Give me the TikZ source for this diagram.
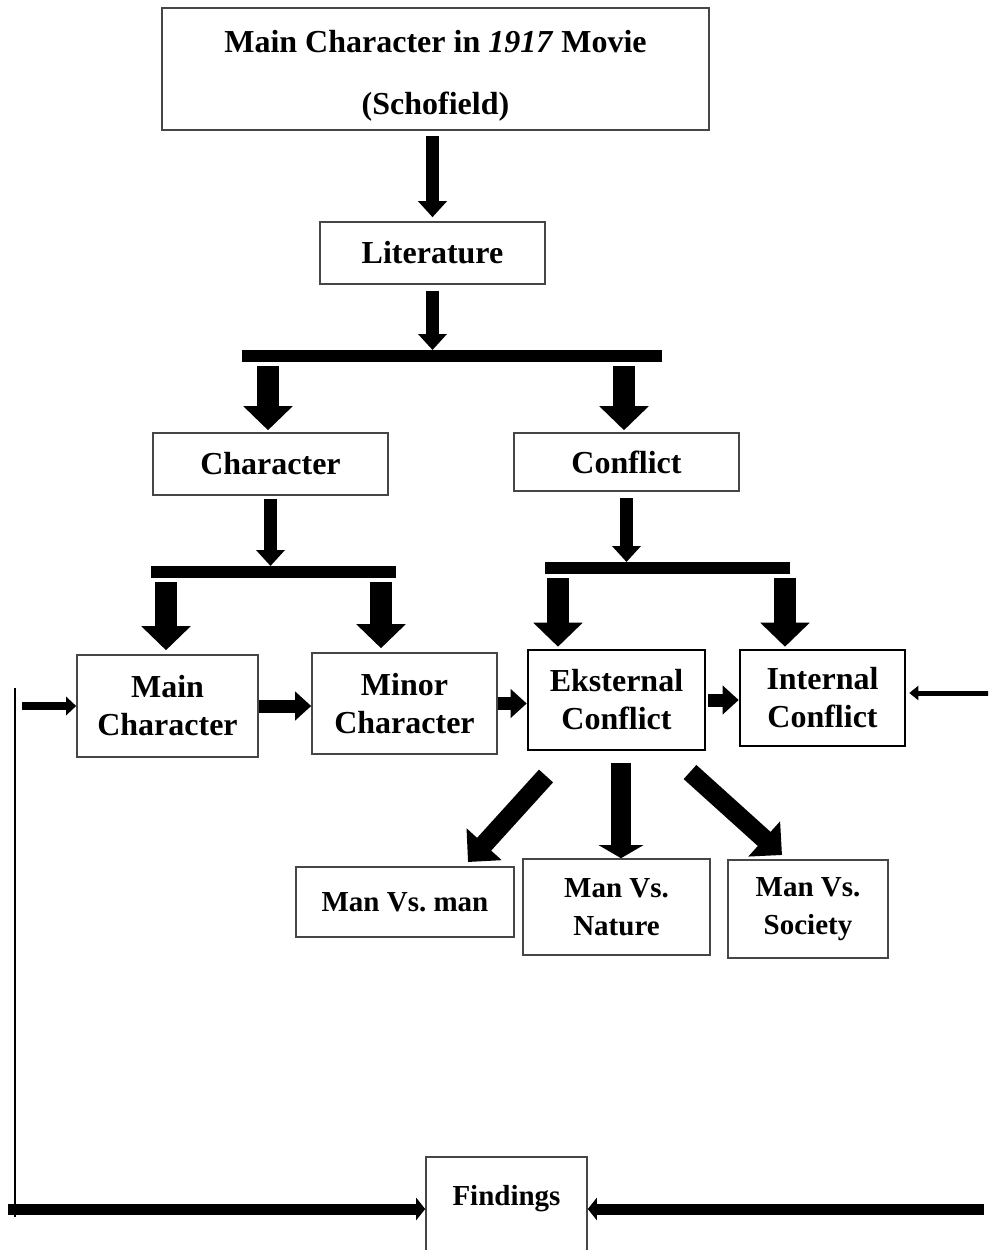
\documentclass[tikz,border=0pt]{standalone}
\usepackage{fontspec}
\setmainfont{Liberation Serif}
\usetikzlibrary{arrows.meta, positioning, calc}
\definecolor{boxgray}{RGB}{70, 70, 70}
\frenchspacing
\tikzset{
	block/.style={rectangle, draw=boxgray, line width=1.6pt, fill=white, align=center, inner sep=0pt, font=\bfseries\fontsize{32}{38}\selectfont},
	thickblock/.style={block, draw=black, line width=2.6pt},
	smallblock/.style={block, font=\bfseries\fontsize{29}{38}\selectfont},
	bigarrow/.style={-{Triangle[width=48pt, length=24pt]}, line width=22pt},
	diagarrow/.style={-{Triangle[width=46pt, length=24pt]}, line width=19pt},
	arrow/.style={-{Triangle[width=28pt, length=16pt]}, line width=13pt},
	thinarrow/.style={-{Triangle[width=18pt, length=10pt]}, line width=8pt},
	finearrow/.style={-{Triangle[width=14pt, length=9pt]}, line width=5pt},
	flatarrow/.style={-{Triangle[width=22pt, length=9pt]}, line width=11pt},
	bar/.style={line width=12pt},
}
\begin{document}
\begin{tikzpicture}[x=1pt, y=-1pt]
		\useasboundingbox (0,0) rectangle (988,1250);
		\clip (0,0) rectangle (988,1250);
		\node[block, minimum width=547, minimum height=122, font=\bfseries\fontsize{32}{62}\selectfont] (top) at (435.5,69) {\rule{0pt}{35pt}Main Character in \textit{1917} Movie\\(Schofield)};
		\node[block, minimum width=225, minimum height=62] (lit) at (432.5,253) {Literature};
		\node[block, minimum width=235, minimum height=62] (char) at (270.5,464) {Character};
		\node[block, minimum width=225, minimum height=58] (conf) at (626.5,462) {Conflict};
		\node[block, minimum width=181, minimum height=102] (mainc) at (167.5,706) {Main\\Character};
		\node[block, minimum width=185, minimum height=101] (minor) at (404.5,703.5) {Minor\\Character};
		\node[thickblock, minimum width=177, minimum height=100] (eks) at (616.5,700) {Eksternal\\Conflict};
		\node[thickblock, minimum width=165, minimum height=96] (int) at (822.5,698) {Internal\\Conflict};
		\node[smallblock, minimum width=218, minimum height=70] (mvm) at (405,902) {Man Vs. man};
		\node[smallblock, minimum width=187, minimum height=96] (mvn) at (616.5,907) {Man Vs.\\Nature};
		\node[smallblock, minimum width=160, minimum height=98] (mvs) at (808,909) {Man Vs.\\Society};
		\node[smallblock, anchor=north, minimum width=161, text height=49, text depth=130] (find) at (506.5,1156) {Findings};
		\coordinate (barA-l) at (242,356);
		\coordinate (barA-r) at (662,356);
		\coordinate (barA-1) at (268,356);
		\coordinate (barA-2) at (624,356);
		\coordinate (barB-l) at (151,572);
		\coordinate (barB-r) at (396,572);
		\coordinate (barB-1) at (166,572);
		\coordinate (barB-2) at (381,572);
		\coordinate (barC-l) at (545,568);
		\coordinate (barC-r) at (790,568);
		\coordinate (barC-1) at (558,568);
		\coordinate (barC-2) at (785,568);
		\coordinate (eks-l) at (546,776);
		\coordinate (mvm-tip) at (468,862);
		\coordinate (eks-m) at (621,763);
		\coordinate (eks-r) at (690,772);
		\coordinate (mvs-tip) at (782,855);
		\coordinate (left-in) at (22,706);
		\coordinate (right-in) at (990,693);
		\coordinate (line-top) at (15,688);
		\coordinate (line-bot) at (15,1217);
		\coordinate (bot-l) at (8,1209);
		\coordinate (bot-r) at (984,1209);
		\draw[arrow, shorten <=5pt, shorten >=4pt] (top.south -| lit.north) -- (lit.north);
		\draw[arrow, shorten <=6pt, shorten >=6pt] (lit.south) -- (lit.south |- barA-l);
		\draw[bar] (barA-l) -- (barA-r);
		\draw[bigarrow, shorten <=10pt, shorten >=2pt] (barA-1) -- (barA-1 |- char.north);
		\draw[bigarrow, shorten <=10pt, shorten >=2pt] (barA-2) -- (barA-2 |- conf.north);
		\draw[arrow, shorten <=3pt, shorten >=6pt] (char.south) -- (char.south |- barB-l);
		\draw[bar] (barB-l) -- (barB-r);
		\draw[bigarrow, shorten <=10pt, shorten >=4pt] (barB-1) -- (barB-1 |- mainc.north);
		\draw[bigarrow, shorten <=10pt, shorten >=4pt] (barB-2) -- (barB-2 |- minor.north);
		\draw[arrow, shorten <=6pt, shorten >=6pt] (conf.south) -- (conf.south |- barC-l);
		\draw[bar] (barC-l) -- (barC-r);
		\draw[bigarrow, shorten <=10pt, shorten >=2pt] (barC-1) -- (barC-1 |- eks.north);
		\draw[bigarrow, shorten <=10pt, shorten >=2pt] (barC-2) -- (barC-2 |- int.north);
		\draw[thinarrow] (left-in) -- (mainc.west);
		\draw[arrow] (mainc.east) -- (mainc.east -| minor.west);
		\draw[arrow] (minor.east) -- (minor.east -| eks.west);
		\draw[arrow, shorten <=2pt] (eks.east) -- (eks.east -| int.west);
		\draw[finearrow, shorten >=3pt] (right-in) -- (right-in -| int.east);
		\draw[diagarrow] (eks-l) -- (mvm-tip);
		\draw[-{Triangle[width=44pt, length=13pt]}, line width=20pt] (eks-m) -- (eks-m |- mvn.north);
		\draw[diagarrow] (eks-r) -- (mvs-tip);
		\draw[line width=1.5pt] (line-top) -- (line-bot);
		\draw[flatarrow] (bot-l) -- (bot-l -| find.west);
		\draw[flatarrow] (bot-r) -- (bot-r -| find.east);
	\end{tikzpicture}
\end{document}
